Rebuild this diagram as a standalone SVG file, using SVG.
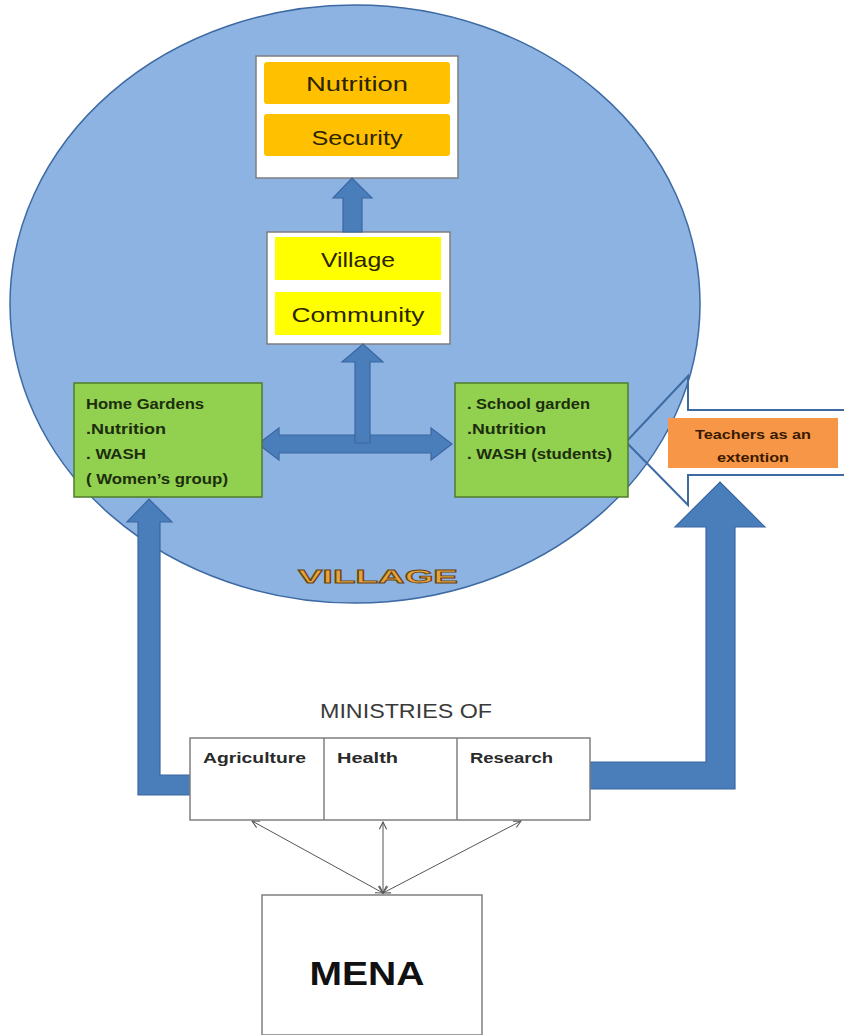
<svg xmlns="http://www.w3.org/2000/svg" width="844" height="1035" viewBox="0 0 844 1035">
<style>
.arrow{fill:#4a7ebb;stroke:#3b67a0;stroke-width:1.2}
.box{fill:#ffffff;stroke:#7f7f7f;stroke-width:1.5}
.green{fill:#92d050;stroke:#4e7d2a;stroke-width:1.5}
.t{font-family:"Liberation Sans",Arial,sans-serif}
.big{font-size:21px;fill:#2b2400;text-anchor:middle}
.gt{font-size:14px;font-weight:bold;fill:#1c2e0c}
.mt{font-size:14px;font-weight:bold;fill:#2a2a2a}
.thin{stroke:#555;stroke-width:1;fill:none;marker-start:url(#oh);marker-end:url(#oh)}
</style>
<defs>
<marker id="oh" viewBox="0 0 10 10" refX="9" refY="5" markerWidth="9" markerHeight="9" orient="auto-start-reverse" markerUnits="userSpaceOnUse">
<path d="M1 1 L9 5 L1 9" fill="none" stroke="#555" stroke-width="1.2"/>
</marker>
</defs>

<g id="village">
<ellipse cx="355" cy="304" rx="345" ry="299" fill="#8db3e2" stroke="#3d6aa3" stroke-width="1.5"/>
<text class="t" x="298" y="583" font-size="18" font-weight="bold" fill="#e8a33a" stroke="#6b4410" stroke-width="0.8" textLength="160" lengthAdjust="spacingAndGlyphs">VILLAGE</text>
</g>

<g id="teachers-callout">
<path d="M844 410 L688 410 L688 376 L626 442 L688 505 L688 475 L844 475" fill="none" stroke="#3d6aa3" stroke-width="2"/>
</g>

<g id="nutrition-security">
<rect class="box" x="256" y="56" width="202" height="122"/>
<rect x="264" y="62" width="186" height="42" rx="3" fill="#ffc000"/>
<rect x="264" y="114" width="186" height="42" rx="3" fill="#ffc000"/>
<text class="t big" x="357" y="91" textLength="102" lengthAdjust="spacingAndGlyphs">Nutrition</text>
<text class="t big" x="357" y="145" textLength="91" lengthAdjust="spacingAndGlyphs">Security</text>
</g>

<g id="village-community">
<rect class="box" x="267" y="232" width="183" height="112"/>
<rect x="275" y="237" width="166" height="43" fill="#ffff00"/>
<rect x="275" y="292" width="166" height="43" fill="#ffff00"/>
<text class="t big" x="358" y="267" textLength="74" lengthAdjust="spacingAndGlyphs">Village</text>
<text class="t big" x="358" y="322" textLength="133" lengthAdjust="spacingAndGlyphs">Community</text>
</g>

<g id="connectors">
<path class="arrow" d="M343 232 L343 198 L333 198 L352 178 L372 198 L362 198 L362 232 Z"/>
<path class="arrow" d="M258 444 L279 428 L279 435 L431 435 L431 428 L452 444 L431 460 L431 453 L279 453 L279 460 Z"/>
<path class="arrow" d="M355 443 L355 362 L342 362 L363 344 L383 362 L370 362 L370 443 Z"/>
<path class="arrow" d="M190 775 L160 775 L160 522 L172 522 L149 499 L127 522 L138 522 L138 795 L190 795 Z"/>
<path class="arrow" d="M590 762 L706 762 L706 527 L675 527 L720 482 L765 527 L735 527 L735 789 L590 789 Z"/>
<line class="thin" x1="383" y1="893" x2="252" y2="821"/>
<line class="thin" x1="383" y1="893" x2="383" y2="822"/>
<line class="thin" x1="383" y1="893" x2="521" y2="821"/>
</g>

<g id="home-gardens">
<rect class="green" x="74" y="383" width="188" height="114"/>
<text class="t gt" x="86" y="409" textLength="118" lengthAdjust="spacingAndGlyphs">Home Gardens</text>
<text class="t gt" x="86" y="434" textLength="80" lengthAdjust="spacingAndGlyphs">.Nutrition</text>
<text class="t gt" x="86" y="459" textLength="60" lengthAdjust="spacingAndGlyphs">. WASH</text>
<text class="t gt" x="86" y="484" textLength="142" lengthAdjust="spacingAndGlyphs">( Women’s group)</text>
</g>

<g id="school-garden">
<rect class="green" x="455" y="383" width="173" height="114"/>
<text class="t gt" x="467" y="409" textLength="123" lengthAdjust="spacingAndGlyphs">. School garden</text>
<text class="t gt" x="467" y="434" textLength="79" lengthAdjust="spacingAndGlyphs">.Nutrition</text>
<text class="t gt" x="467" y="459" textLength="145" lengthAdjust="spacingAndGlyphs">. WASH (students)</text>
</g>

<g id="teachers">
<rect x="668" y="418" width="170" height="50" fill="#f79646"/>
<text class="t" x="753" y="439" font-size="13" font-weight="bold" fill="#3a1a00" text-anchor="middle" textLength="116" lengthAdjust="spacingAndGlyphs">Teachers as an</text>
<text class="t" x="753" y="462" font-size="13" font-weight="bold" fill="#3a1a00" text-anchor="middle" textLength="72" lengthAdjust="spacingAndGlyphs">extention</text>
</g>

<g id="ministries">
<text class="t" x="320" y="718" font-size="20" fill="#3a3a3a" textLength="172" lengthAdjust="spacingAndGlyphs">MINISTRIES OF</text>
<rect class="box" x="190" y="738" width="400" height="82"/>
<line x1="324" y1="738" x2="324" y2="820" stroke="#7f7f7f" stroke-width="1.5"/>
<line x1="457" y1="738" x2="457" y2="820" stroke="#7f7f7f" stroke-width="1.5"/>
<text class="t mt" x="203" y="763" textLength="103" lengthAdjust="spacingAndGlyphs">Agriculture</text>
<text class="t mt" x="337" y="763" textLength="61" lengthAdjust="spacingAndGlyphs">Health</text>
<text class="t mt" x="470" y="763" textLength="83" lengthAdjust="spacingAndGlyphs">Research</text>
</g>

<g id="mena">
<rect class="box" x="262" y="895" width="220" height="140"/>
<text class="t" x="367" y="985" font-size="34" font-weight="bold" fill="#111" text-anchor="middle" textLength="115" lengthAdjust="spacingAndGlyphs">MENA</text>
</g>
</svg>
